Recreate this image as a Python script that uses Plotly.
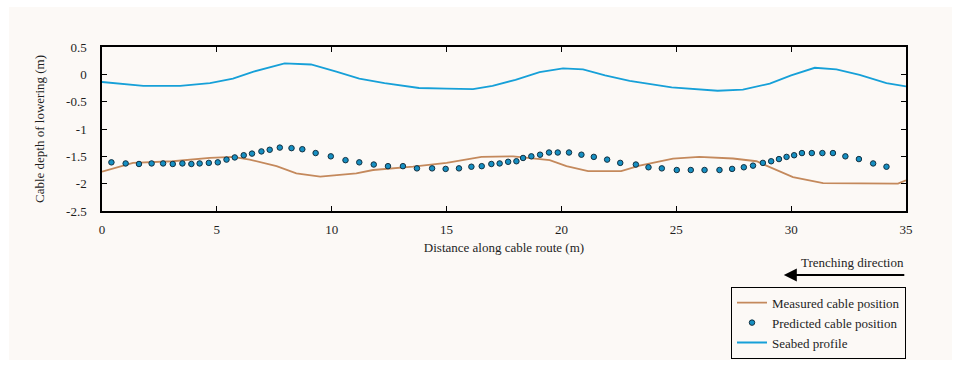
import plotly.graph_objects as go

# Seabed profile along the route
seabed_x = [0, 1.8, 3.4, 4.7, 5.7, 6.6, 7.95, 9.1, 10.2, 11.2, 12.3, 13.8, 15.0, 16.15,
            17.0, 18.0, 19.05, 20.07, 20.94, 21.9, 22.97, 24.8, 26.8, 27.9, 29.07, 30.0,
            31.03, 31.97, 32.98, 34.15, 35]
seabed_y = [-0.14, -0.21, -0.21, -0.16, -0.08, 0.05, 0.2, 0.18, 0.05, -0.08, -0.16, -0.25,
            -0.26, -0.27, -0.21, -0.1, 0.04, 0.11, 0.09, -0.02, -0.12, -0.24, -0.3, -0.28,
            -0.17, -0.02, 0.12, 0.09, -0.01, -0.16, -0.22]

# Measured cable position
measured_x = [0, 1.35, 3.09, 4.69, 5.7, 6.43, 7.6, 8.46, 9.5, 11.07, 11.8, 13.54, 15.0,
              16.52, 17.9, 19.49, 20.22, 21.16, 22.6, 23.4, 24.86, 26.0, 27.47, 28.49,
              30.08, 31.39, 34.65, 35]
measured_y = [-1.78, -1.62, -1.59, -1.53, -1.51, -1.56, -1.68, -1.81, -1.87, -1.81, -1.75,
              -1.69, -1.62, -1.51, -1.5, -1.57, -1.68, -1.77, -1.77, -1.67, -1.54, -1.51,
              -1.54, -1.59, -1.88, -1.99, -2.0, -1.94]

# Predicted cable position
predicted_x = [0.41, 1.03, 1.61, 2.16, 2.66, 3.08, 3.5, 3.89, 4.25, 4.65, 5.04, 5.42, 5.78,
               6.17, 6.53, 6.94, 7.3, 7.74, 8.25, 8.72, 9.3, 9.96, 10.6, 11.2, 11.83,
               12.45, 13.1, 13.71, 14.37, 14.96, 15.54, 16.08, 16.53, 16.95, 17.31, 17.68,
               18.04, 18.33, 18.69, 19.07, 19.46, 19.84, 20.33, 20.87, 21.41, 21.99, 22.56,
               23.24, 23.79, 24.37, 25.02, 25.63, 26.23, 26.88, 27.43, 27.94, 28.34, 28.77,
               29.13, 29.47, 29.8, 30.13, 30.47, 30.9, 31.36, 31.82, 32.36, 32.95, 33.57,
               34.15]
predicted_y = [-1.61, -1.63, -1.64, -1.63, -1.63, -1.64, -1.63, -1.64, -1.63, -1.62, -1.61,
               -1.56, -1.52, -1.48, -1.45, -1.41, -1.38, -1.34, -1.35, -1.37, -1.44, -1.5,
               -1.57, -1.61, -1.65, -1.68, -1.68, -1.72, -1.72, -1.73, -1.72, -1.69, -1.68,
               -1.64, -1.63, -1.6, -1.59, -1.53, -1.5, -1.47, -1.43, -1.43, -1.43, -1.47,
               -1.51, -1.56, -1.62, -1.65, -1.7, -1.72, -1.75, -1.75, -1.75, -1.75, -1.73,
               -1.7, -1.67, -1.62, -1.59, -1.55, -1.51, -1.48, -1.44, -1.44, -1.44, -1.44,
               -1.5, -1.55, -1.63, -1.69]

x_ticks = [0, 5, 10, 15, 20, 25, 30, 35]
y_ticks = [0.5, 0, -0.5, -1, -1.5, -2, -2.5]

FONT = "Liberation Serif"
TXT = "#1e1e1e"
BG = "#fcf9f6"

fig = go.Figure()
fig.add_trace(go.Scatter(x=measured_x, y=measured_y, mode="lines",
                         name="Measured cable position",
                         line=dict(color="#c4895c", width=1.8)))
fig.add_trace(go.Scatter(x=predicted_x, y=predicted_y, mode="markers",
                         name="Predicted cable position",
                         marker=dict(size=5.5, color="#168fc2",
                                     line=dict(color="#123040", width=1))))
fig.add_trace(go.Scatter(x=seabed_x, y=seabed_y, mode="lines",
                         name="Seabed profile",
                         line=dict(color="#16a0d8", width=1.8)))

axis_common = dict(showline=True, linecolor="black", linewidth=1.5, mirror="ticks",
                   ticks="inside", ticklen=5, tickcolor="black", tickwidth=1,
                   showgrid=False, zeroline=False, automargin=False,
                   tickfont=dict(family=FONT, size=13, color=TXT))

fig.update_xaxes(range=[0, 35], tickvals=x_ticks, ticktext=[str(v) for v in x_ticks],
                 ticklabelstandoff=6,
                 title=dict(text="Distance along cable route (m)", standoff=7,
                            font=dict(family=FONT, size=13, color=TXT)),
                 **axis_common)
fig.update_yaxes(range=[-2.5, 0.5], tickvals=y_ticks, ticktext=[f"{v:g}" for v in y_ticks],
                 ticklabelstandoff=11,
                 title=dict(text="Cable depth of lowering (m)", standoff=19,
                            font=dict(family=FONT, size=13, color=TXT)),
                 **axis_common)

# Framed panel behind the chart
fig.add_shape(type="rect", xref="paper", yref="paper", x0=-0.1157, x1=1.0572,
              y0=-0.9085, y1=1.2439, fillcolor=BG, line=dict(width=0), layer="below")

# Trenching direction arrow (tail offset given in pixels)
fig.add_annotation(xref="paper", yref="paper", x=0.848, y=-0.39, ax=122, ay=0,
                   text="", showarrow=True,
                   arrowhead=2, arrowsize=1.3, arrowwidth=2, arrowcolor="black")
fig.add_annotation(xref="paper", yref="paper", x=1.0, y=-0.317, xanchor="right",
                   yanchor="middle", text="Trenching direction", showarrow=False,
                   font=dict(family=FONT, size=13, color=TXT))

fig.update_layout(
    width=958, height=367,
    margin=dict(l=102, r=52, t=47, b=156, autoexpand=False),
    paper_bgcolor="white", plot_bgcolor=BG,
    font=dict(family=FONT, size=13, color=TXT),
    legend=dict(x=1.0, xanchor="right", y=-0.462, yanchor="top",
                bgcolor=BG, bordercolor="black", borderwidth=1,
                font=dict(family=FONT, size=13, color=TXT),
                tracegroupgap=0, itemwidth=30),
)

fig.write_html("out.html")
